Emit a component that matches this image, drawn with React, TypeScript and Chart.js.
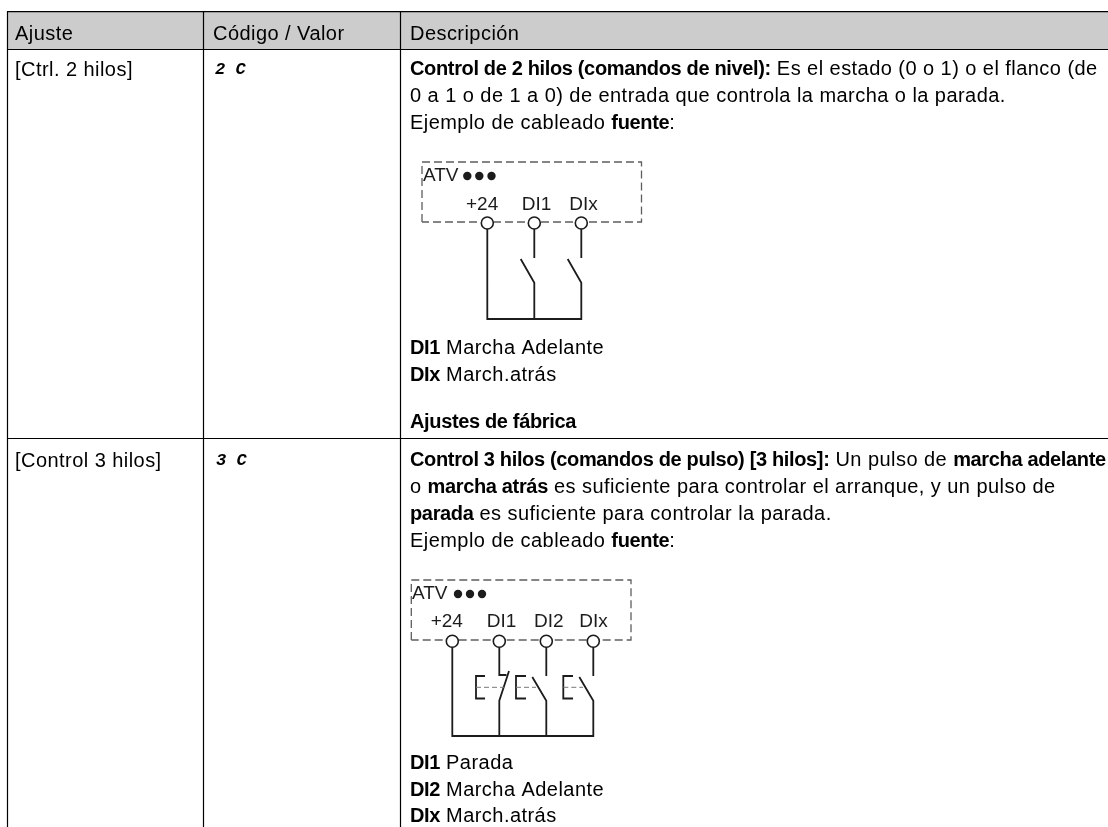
import React, { useEffect, useRef } from "react";
import { Chart, registerables } from "chart.js";

Chart.register(...registerables);

type P = [number, number];
type Run = [string, boolean];

// Table rules (drawn through the chart's scales)
const headerBand: P[] = [[7, 30.5], [1108, 30.5]];
const tableRules: P[][] = [
  [[7, 11.7], [1108, 11.7]],
  [[7, 49.5], [1108, 49.5]],
  [[7, 438.5], [1108, 438.5]],
  [[7.5, 11], [7.5, 827]],
  [[203.5, 11], [203.5, 827]],
  [[400.5, 11], [400.5, 827]],
];

// Wiring diagram 1
const frame1: P[] = [[422, 222], [422, 162], [641.5, 162], [641.5, 222], [422, 222]];
const wires1: P[][] = [
  [[487.3, 229], [487.3, 319], [581.3, 319], [581.3, 282.7], [567.7, 259]],
  [[534.3, 319], [534.3, 282.7], [520.7, 259]],
  [[534.3, 229], [534.3, 258]],
  [[581.3, 229], [581.3, 258]],
];
const terminals1: P[] = [[487.3, 223], [534.3, 223], [581.3, 223]];
const dots1: P[] = [[467.3, 176], [479.3, 176], [491.5, 176]];

// Wiring diagram 2
const frame2: P[] = [[411.3, 640], [411.3, 580], [631, 580], [631, 640], [411.3, 640]];
const wires2: P[][] = [
  [[452.3, 647], [452.3, 736], [593.3, 736], [593.3, 700.7], [579.3, 677]],
  [[499.3, 647], [499.3, 675], [506.5, 675]],
  [[509, 671], [499.3, 700.7], [499.3, 736]],
  [[546.3, 736], [546.3, 700.7], [532.3, 677]],
  [[546.3, 647], [546.3, 676]],
  [[593.3, 647], [593.3, 676]],
  [[485, 676], [476, 676], [476, 698.5], [485, 698.5]],
  [[526, 676], [516, 676], [516, 698.5], [526, 698.5]],
  [[573, 676], [563.3, 676], [563.3, 698.5], [573, 698.5]],
];
const pushLinks: P[][] = [
  [[476, 687.3], [504, 687.3]],
  [[516, 687.3], [536, 687.3]],
  [[563.3, 687.3], [583, 687.3]],
];
const terminals2: P[] = [[452.3, 641.3], [499.3, 641.3], [546.3, 641.3], [593.3, 641.3]];
const dots2: P[] = [[458, 594], [470, 594], [482, 594]];

// Text
const headerLabels: [string, number][] = [["Ajuste", 15], ["Código / Valor", 213], ["Descripción", 410]];
const settingLabels: [string, number][] = [["[Ctrl. 2 hilos]", 76], ["[Control 3 hilos]", 467]];
const codeLabels: [string, number, number][] = [["2 C", 215, 74], ["3 C", 216, 465]];
const descriptionLines: [number, Run[]][] = [
  [75, [["Control de 2 hilos (comandos de nivel):", true], [" Es el estado (0 o 1) o el flanco (de", false]]],
  [102, [["0 a 1 o de 1 a 0) de entrada que controla la marcha o la parada.", false]]],
  [128.5, [["Ejemplo de cableado ", false], ["fuente", true], [":", false]]],
  [354, [["DI1", true], [" Marcha Adelante", false]]],
  [380.5, [["DIx", true], [" March.atrás", false]]],
  [428, [["Ajustes de fábrica", true]]],
  [466, [["Control 3 hilos (comandos de pulso) [3 hilos]:", true], [" Un pulso de ", false], ["marcha adelante", true]]],
  [493, [["o ", false], ["marcha atrás", true], [" es suficiente para controlar el arranque, y un pulso de", false]]],
  [520, [["parada", true], [" es suficiente para controlar la parada.", false]]],
  [547, [["Ejemplo de cableado ", false], ["fuente", true], [":", false]]],
  [769, [["DI1", true], [" Parada", false]]],
  [795.5, [["DI2", true], [" Marcha Adelante", false]]],
  [822, [["DIx", true], [" March.atrás", false]]],
];
const diagramLabels: [string, number, number][] = [
  ["ATV", 423, 181],
  ["+24", 466, 210],
  ["DI1", 521.7, 210],
  ["DIx", 569.3, 210],
  ["ATV", 412, 599],
  ["+24", 430.7, 627],
  ["DI1", 486.7, 627],
  ["DI2", 534, 627],
  ["DIx", 579.3, 627],
];

const FONT = '"Liberation Sans", Arial, sans-serif';
const INK = "#1c1c1c";

const toXY = (pts: P[]) => pts.map(([x, y]) => ({ x, y }));
const line = (pts: P[], color: string, width: number, dash: number[] = []) => ({
  type: "scatter" as const,
  data: toXY(pts),
  showLine: true,
  borderColor: color,
  borderWidth: width,
  borderDash: dash,
  pointRadius: 0,
  tension: 0,
  fill: false,
  clip: false as any,
});
const points = (pts: P[], fill: string, radius: number, border: number) => ({
  type: "scatter" as const,
  data: toXY(pts),
  showLine: false,
  backgroundColor: fill,
  borderColor: INK,
  borderWidth: border,
  pointRadius: radius,
  clip: false as any,
});

const textPlugin = {
  id: "tableText",
  afterDatasetsDraw(chart: any) {
    const { ctx, scales } = chart;
    const X = (v: number) => scales.x.getPixelForValue(v);
    const Y = (v: number) => scales.y.getPixelForValue(v);
    ctx.save();
    ctx.textBaseline = "alphabetic";
    ctx.textAlign = "left";
    ctx.fillStyle = "#000";
    const useRegular = () => {
      ctx.font = `20px ${FONT}`;
      ctx.letterSpacing = "0.45px";
    };
    const useBold = () => {
      ctx.font = `bold 20px ${FONT}`;
      ctx.letterSpacing = "-0.35px";
    };
    useRegular();
    headerLabels.forEach(([t, x]) => ctx.fillText(t, X(x), Y(40)));
    settingLabels.forEach(([t, y]) => ctx.fillText(t, X(15), Y(y)));
    descriptionLines.forEach(([y, runs]) => {
      let px = X(410);
      runs.forEach(([t, b]) => {
        if (b) useBold();
        else useRegular();
        ctx.fillText(t, px, Y(y));
        px += ctx.measureText(t).width;
      });
    });
    ctx.font = `19px ${FONT}`;
    ctx.letterSpacing = "0px";
    ctx.fillStyle = INK;
    diagramLabels.forEach(([t, x, y]) => ctx.fillText(t, X(x), Y(y)));
    ctx.fillStyle = "#000";
    ctx.font = `italic bold 17px "Liberation Mono", monospace`;
    codeLabels.forEach(([t, x, y]) => ctx.fillText(t, X(x), Y(y)));
    ctx.restore();
  },
};

export default function App() {
  const ref = useRef<HTMLCanvasElement>(null);
  useEffect(() => {
    // Chart.js paints the first dataset last, so the list runs from bottom mark to top mark once reversed.
    const datasets = [
      line(headerBand, "#cccccc", 37.6),
      ...tableRules.map((r) => line(r, "#000000", 1.2)),
      line(frame1, "#5e5e5e", 1.3, [8, 4]),
      line(frame2, "#5e5e5e", 1.3, [8, 4]),
      ...wires1.map((w) => line(w, INK, 1.8)),
      ...wires2.map((w) => line(w, INK, 1.8)),
      ...pushLinks.map((w) => line(w, "#777777", 1, [5, 3])),
      points(terminals1, "#ffffff", 6, 1.6),
      points(terminals2, "#ffffff", 6, 1.6),
      points(dots1, INK, 4.2, 0),
      points(dots2, INK, 4.2, 0),
    ].reverse();
    const chart = new Chart(ref.current as HTMLCanvasElement, {
      type: "scatter",
      data: { datasets: datasets as any },
      options: {
        animation: false,
        responsive: false,
        layout: { padding: 0, autoPadding: false },
        events: [],
        plugins: { legend: { display: false }, tooltip: { enabled: false }, title: { display: false } },
        scales: {
          x: { type: "linear", min: 0, max: 1108, display: false },
          y: { type: "linear", min: 0, max: 827, reverse: true, display: false },
        },
      },
      plugins: [textPlugin],
    });
    return () => chart.destroy();
  }, []);
  return (
    <div style={{ position: "fixed", left: 0, top: 0, width: 1108, height: 827, overflow: "hidden", background: "#fff" }}>
      <canvas ref={ref} width={1108} height={827} style={{ display: "block" }} />
    </div>
  );
}
